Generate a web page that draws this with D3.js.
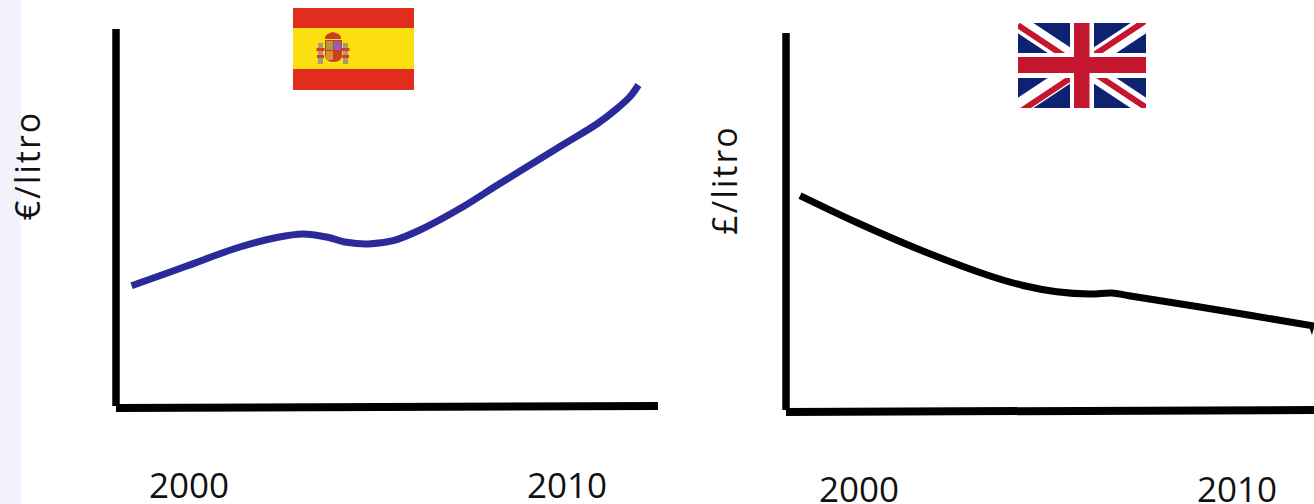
<!DOCTYPE html>
<html><head><meta charset="utf-8">
<script src="https://cdn.jsdelivr.net/npm/d3@7"></script>
<style>
html,body{margin:0;padding:0;background:#fff;overflow:hidden}
svg{display:block}
text{font-family:"Open Sans",sans-serif;fill:#111}
</style></head><body>
<script>
const tickYears = [2000, 2010];
const spainYears = [1998.48,1999.94,2001.26,2002.32,2003.02,2003.64,2004.17,2004.74,2005.40,2006.11,2007.26,2008.14,2009.02,2009.90,2010.79,2011.31,2011.67,2011.89];
const spainValues = [1.223,1.42,1.60,1.705,1.74,1.71,1.657,1.64,1.673,1.78,2.015,2.225,2.43,2.635,2.84,2.99,3.115,3.23];
const ukYears = [1998.44,1999.94,2001.69,2003.47,2004.34,2005.23,2006.11,2006.69,2007.14,2009.02,2012.04];
const ukValues = [2.164,1.895,1.61,1.36,1.265,1.203,1.18,1.19,1.163,1.05,0.86];
const spainUnit = "€/litro";
const ukUnit = "£/litro";

const W = 1314, H = 504;
const svg = d3.select("body").append("svg").attr("width", W).attr("height", H);
svg.append("rect").attr("width", 21).attr("height", H).attr("fill", "#f2f2fd");

function panel(o){
  const x = d3.scaleLinear().domain([2000, 2010]).range([o.x2000, o.x2000 + 378]);
  const y = d3.scaleLinear().domain([0, 1]).range([o.base, o.base - 100]);
  const g = svg.append("g");
  g.append("line").attr("x1", o.axisX).attr("x2", o.axisX).attr("y1", o.axisTop).attr("y2", o.base - 2)
    .attr("stroke", "#000").attr("stroke-width", 7.5);
  g.append("line").attr("x1", o.axisX).attr("x2", o.axisEnd).attr("y1", o.base).attr("y2", o.base - 2)
    .attr("stroke", "#000").attr("stroke-width", 8);
  const line = d3.line().x(d => x(d[0])).y(d => y(d[1])).curve(d3.curveCatmullRom.alpha(0.5));
  g.append("path").attr("d", line(d3.zip(o.years, o.values)))
    .attr("fill", "none").attr("stroke", o.color).attr("stroke-width", 7).attr("stroke-linecap", "butt");
  g.selectAll("text.year").data(tickYears).join("text").attr("class", "year")
    .attr("x", d => x(d)).attr("y", o.labelY).attr("text-anchor", "middle")
    .attr("font-size", 35).text(d => d);
  g.append("text").attr("transform", `translate(${o.unitX},${o.unitY}) rotate(-90)`)
    .attr("text-anchor", "middle").attr("font-size", 34).attr("letter-spacing", 2).text(o.unit);
}
panel({x2000:189, base:408, axisX:116, axisTop:29, axisEnd:658, years:spainYears, values:spainValues,
       color:"#2a2a9a", labelY:497.5, unit:spainUnit, unitX:39.5, unitY:165.5});
panel({x2000:859, base:412, axisX:786, axisTop:33, axisEnd:1314, years:ukYears, values:ukValues,
       color:"#000", labelY:501.5, unit:ukUnit, unitX:737, unitY:180});

svg.append("path").attr("d","M1309,327L1314,327L1312,335Z").attr("fill","#000");

const defs = svg.append("defs");
defs.append("filter").attr("id","soft").append("feGaussianBlur").attr("stdDeviation",0.45);

// Spanish flag
const es = svg.append("g").attr("transform","translate(293,8)");
es.append("rect").attr("width",121).attr("height",82).attr("fill","#e02d1c");
es.append("rect").attr("y",20).attr("width",121).attr("height",41).attr("fill","#fbdf10");
const coa = es.append("g").attr("transform","translate(40,41)").attr("filter","url(#soft)");
coa.append("path").attr("d","M-8,-10Q-9,-15 0,-17Q9,-15 8,-10Z").attr("fill","#c8401e");
coa.append("path").attr("d","M-8,-9H9V6Q9,13 0.5,13Q-8,13 -8,6Z").attr("fill","#c8401e");
coa.append("rect").attr("x",-7).attr("y",-8).attr("width",7).attr("height",9).attr("fill","#b09a3a");
coa.append("rect").attr("x",1).attr("y",-8).attr("width",7).attr("height",9).attr("fill","#9a5ab8");
coa.append("rect").attr("x",-7).attr("y",2).attr("width",7).attr("height",9).attr("fill","#d89040");
[-12.5,12.5].forEach(dx=>{
  coa.append("rect").attr("x",dx-2.5).attr("y",-6).attr("width",5).attr("height",21).attr("fill","#a89a78");
  coa.append("rect").attr("x",dx-4).attr("y",-1).attr("width",8).attr("height",3).attr("fill","#d0402a");
  coa.append("rect").attr("x",dx-3.5).attr("y",6).attr("width",7).attr("height",3).attr("fill","#d0402a");
});

// Union flag
const fw = 128, fh = 85, cx = fw/2, cy = fh/2;
defs.append("clipPath").attr("id","ukc").append("rect").attr("width",fw).attr("height",fh);
const uk = svg.append("g").attr("transform","translate(1018,23)").append("g")
  .attr("clip-path","url(#ukc)").append("g").attr("filter","url(#soft)");
uk.append("rect").attr("width",fw).attr("height",fh).attr("fill","#0a2470");
[[0,0,fw,fh],[0,fh,fw,0]].forEach(d=>{
  uk.append("line").attr("x1",d[0]).attr("y1",d[1]).attr("x2",d[2]).attr("y2",d[3])
    .attr("stroke","#fff").attr("stroke-width",17);
});
[[0,0,0,2.2],[fw,0,0,-2.5],[fw,fh,0,-0.5],[0,fh,0,5]].forEach(d=>{
  uk.append("line").attr("x1",d[0]+d[2]).attr("y1",d[1]+d[3]).attr("x2",cx+d[2]).attr("y2",cy+d[3])
    .attr("stroke","#c4122f").attr("stroke-width",6);
});
uk.append("rect").attr("x",52).attr("width",24).attr("height",fh).attr("fill","#fff");
uk.append("rect").attr("y",30).attr("width",fw).attr("height",25).attr("fill","#fff");
uk.append("rect").attr("x",56).attr("width",15.5).attr("height",fh).attr("fill","#c4122f");
uk.append("rect").attr("y",34).attr("width",fw).attr("height",16).attr("fill","#c4122f");
</script>
</body></html>
